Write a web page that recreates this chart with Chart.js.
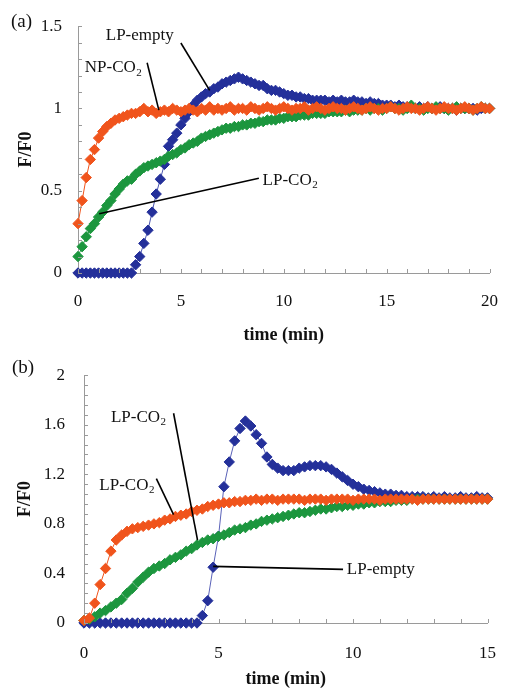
<!DOCTYPE html>
<html><head><meta charset="utf-8">
<script src="https://cdn.jsdelivr.net/npm/chart.js@4.4.0/dist/chart.umd.min.js"></script>
<style>
html,body{margin:0;padding:0;background:#fff;width:516px;height:688px;overflow:hidden;}
#wa{position:absolute;left:0;top:0;width:516px;height:346px;}
#wb{position:absolute;left:0;top:346px;width:516px;height:342px;}
.pl{position:absolute;font-family:"Liberation Serif","Times New Roman",serif;font-size:19px;line-height:1;color:#111;}
</style></head><body>
<div id="wa"><canvas id="ca" width="516" height="346"></canvas></div>
<div id="wb"><canvas id="cb" width="516" height="342"></canvas></div>
<div class="pl" style="left:11px;top:11px">(a)</div>
<div class="pl" style="left:12px;top:357px">(b)</div>
<script>
// ---------- Panel (a) data ----------
const timeA = [0,0.2,0.4,0.6,0.8,1,1.2,1.4,1.6,1.8,2,2.2,2.4,2.6,2.8,3,3.2,3.4,3.6,3.8,4,4.2,4.4,4.6,4.8,5,5.2,5.4,5.6,5.8,6,6.2,6.4,6.6,6.8,7,7.2,7.4,7.6,7.8,8,8.2,8.4,8.6,8.8,9,9.2,9.4,9.6,9.8,10,10.2,10.4,10.6,10.8,11,11.2,11.4,11.6,11.8,12,12.2,12.4,12.6,12.8,13,13.2,13.4,13.6,13.8,14,14.2,14.4,14.6,14.8,15,15.2,15.4,15.6,15.8,16,16.2,16.4,16.6,16.8,17,17.2,17.4,17.6,17.8,18,18.2,18.4,18.6,18.8,19,19.2,19.4,19.6,19.8,20];
const npCO2A = [0.30,0.44,0.58,0.69,0.75,0.82,0.86,0.89,0.91,0.93,0.94,0.95,0.96,0.97,0.97,0.98,
1.00,0.98,0.99,0.97,0.98,0.99,0.98,1.00,0.99,0.98,
0.99,1.00,0.99,0.98,1.00,0.99,1.01,0.99,1.00,0.99,
1.00,1.01,0.99,1.00,1.00,0.99,1.01,1.00,0.99,1.00,
1.01,1.00,0.99,1.00,1.01,1.00,0.99,1.00,1.00,1.01,
0.99,1.00,1.01,1.00,0.99,1.00,1.01,1.00,1.00,0.99,
1.00,1.01,1.00,0.99,1.00,1.01,1.00,0.99,1.00,1.00,
1.01,1.00,0.99,1.00,1.01,1.00,1.00,0.99,1.00,1.01,
1.00,0.99,1.00,1.01,1.00,1.00,0.99,1.00,1.01,1.00,
0.99,1.00,1.01,1.00,1.00];
const lpCO2A = [0.10,0.16,0.22,0.27,0.30,0.34,0.37,0.41,0.44,0.48,
0.51,0.54,0.56,0.57,0.60,0.62,0.64,0.65,0.66,0.67,
0.68,0.69,0.71,0.72,0.73,0.75,0.76,0.78,0.79,0.80,
0.82,0.83,0.84,0.85,0.86,0.87,0.88,0.88,0.89,0.89,
0.90,0.90,0.91,0.91,0.92,0.92,0.93,0.93,0.93,0.94,
0.94,0.95,0.95,0.95,0.96,0.96,0.96,0.97,0.97,0.97,
0.97,0.98,0.98,0.98,0.98,0.99,0.98,0.99,0.99,0.99,
1.00,0.99,1.00,1.00,0.99,1.00,1.01,1.00,1.00,0.99,
1.00,1.02,1.00,1.00,0.99,1.00,1.00,1.01,1.00,1.00,
0.99,1.00,1.01,1.00,1.00,1.00,0.99,1.00,1.01,1.00,
1.00];
const lpEmptyA = [0,0,0,0,0,0,0,0,0,0,0,0,0,0,
0.05,0.10,0.18,0.26,0.37,0.48,0.57,0.66,0.77,0.81,
0.85,0.90,0.94,0.98,1.02,1.05,1.07,1.09,1.10,1.12,
1.13,1.15,1.16,1.17,1.18,1.19,1.18,1.17,1.16,1.15,
1.14,1.14,1.12,1.11,1.11,1.10,1.09,1.08,1.08,1.07,
1.07,1.06,1.06,1.05,1.05,1.05,1.05,1.04,1.05,1.04,
1.05,1.04,1.04,1.05,1.04,1.04,1.03,1.04,1.03,1.03,
1.02,1.02,1.02,1.01,1.02,1.01,1.01,1.01,1.00,1.01,
1.00,1.01,1.00,1.00,1.01,1.00,1.00,1.00,0.99,1.00,
1.00,1.00,1.00,0.99,1.00,1.00,1.00];
const xLabelsA = [0,5,10,15,20];
const yLabelsA = [0,0.5,1,1.5];

// ---------- Panel (b) data ----------
const timeB = [0,0.2,0.4,0.6,0.8,1,1.2,1.4,1.6,1.8,2,2.2,2.4,2.6,2.8,3,3.2,3.4,3.6,3.8,4,4.2,4.4,4.6,4.8,5,5.2,5.4,5.6,5.8,6,6.2,6.4,6.6,6.8,7,7.2,7.4,7.6,7.8,8,8.2,8.4,8.6,8.8,9,9.2,9.4,9.6,9.8,10,10.2,10.4,10.6,10.8,11,11.2,11.4,11.6,11.8,12,12.2,12.4,12.6,12.8,13,13.2,13.4,13.6,13.8,14,14.2,14.4,14.6,14.8,15];
const orangeB = [0.02,0.04,0.16,0.31,0.44,0.58,0.67,0.71,0.74,0.76,
0.77,0.78,0.79,0.80,0.81,0.83,0.84,0.86,0.87,0.88,
0.90,0.91,0.92,0.94,0.95,0.96,0.97,0.97,0.98,0.98,
0.99,0.99,1.00,0.99,1.00,1.00,0.99,1.00,1.00,1.00,
1.00,0.99,1.00,1.00,1.00,0.99,1.00,1.00,1.00,1.00,
0.99,1.00,1.00,1.00,1.00,0.99,1.00,1.00,1.00,1.00,
1.00,1.00,0.99,1.00,1.00,1.00,1.00,1.00,1.00,1.00,
1.00,1.00,1.00,1.00,1.00,1.00];
const greenB = [0.02,0.03,0.05,0.08,0.10,0.13,0.16,0.19,0.24,0.28,
0.33,0.37,0.41,0.44,0.46,0.48,0.51,0.53,0.55,0.58,
0.60,0.63,0.65,0.67,0.68,0.70,0.71,0.73,0.75,0.76,
0.77,0.79,0.80,0.82,0.83,0.84,0.85,0.86,0.87,0.88,
0.89,0.89,0.90,0.91,0.92,0.92,0.93,0.94,0.94,0.95,
0.95,0.96,0.96,0.97,0.97,0.98,0.98,0.98,0.99,0.99,
0.99,1.00,1.00,1.00,1.00,1.00,1.00,1.00,1.00,1.00,
1.00,1.00,1.00,1.00,1.00,1.00];
const lpEmptyB = [0,0,0,0,0,0,0,0,0,0,0,0,0,0,0,0,0,0,0,0,0,0,
0.06,0.18,0.45,0.70,1.10,1.30,1.47,1.57,1.63,1.59,
1.52,1.45,1.34,1.28,1.25,1.23,1.23,1.23,1.25,1.26,
1.27,1.27,1.27,1.26,1.24,1.21,1.18,1.15,1.12,1.10,
1.08,1.07,1.06,1.05,1.04,1.04,1.03,1.03,1.02,1.02,
1.02,1.02,1.01,1.02,1.01,1.02,1.01,1.01,1.02,1.01,
1.01,1.02,1.01,1.01];
const xLabelsB = [0,5,10,15];
const yLabelsB = [0,0.4,0.8,1.2,1.6,2];

// ---------- annotations (data coordinates) ----------
const notesA = [
  {text:'LP-empty', sub:'', at:[1.35,1.445], from:[5.0,1.398], to:[6.4,1.11]},
  {text:'NP-CO', sub:'2', at:[0.33,1.248], from:[3.36,1.278], to:[3.93,0.99]},
  {text:'LP-CO', sub:'2', at:[8.97,0.564], from:[1.03,0.36], to:[8.79,0.576]}
];
const notesB = [
  {text:'LP-CO', sub:'2', at:[1.0,1.661], from:[3.33,1.693], to:[4.22,0.669]},
  {text:'LP-CO', sub:'2', at:[0.57,1.11], from:[2.69,1.165], to:[3.33,0.874]},
  {text:'LP-empty', sub:'', at:[9.77,0.433], from:[4.80,0.457], to:[9.63,0.433]}
];

const SERIF = '"Liberation Serif","Times New Roman",serif';
Chart.defaults.font.family = SERIF;
Chart.defaults.color = '#111';

const ORANGE = '#F0541C', GREEN = '#1C963E', BLUE = '#24309A';

function labelIf(list) {
  return function(v) {
    for (const l of list) if (Math.abs(v - l) < 1e-6) return String(Math.round(l*10)/10);
    return '';
  };
}

function ds(label, xs, ys, color, lineColor) {
  return {
    label, data: xs.map((t,i)=>({x:t, y:ys[i]})),
    borderColor: lineColor, backgroundColor: color,
    pointBackgroundColor: color, pointBorderColor: color,
    pointStyle: 'rectRot', pointRadius: 5.2, pointBorderWidth: 1,
    borderWidth: 1, tension: 0, clip: false
  };
}

function notesPlugin(items) {
  return {
    id: 'notes',
    afterDatasetsDraw(chart) {
      const {ctx, scales:{x, y}} = chart;
      ctx.save();
      ctx.strokeStyle = '#9a9a9a'; ctx.lineWidth = 1;
      x.ticks.forEach(t => {
        const px = Math.round(x.getPixelForValue(t.value)) + 0.5;
        ctx.beginPath(); ctx.moveTo(px, y.bottom); ctx.lineTo(px, y.bottom - 4); ctx.stroke();
      });
      y.ticks.forEach(t => {
        const py = Math.round(y.getPixelForValue(t.value)) + 0.5;
        ctx.beginPath(); ctx.moveTo(x.left, py); ctx.lineTo(x.left + 4, py); ctx.stroke();
      });
      items.forEach(n => {
        ctx.strokeStyle = '#000'; ctx.lineWidth = 1.6;
        ctx.beginPath();
        ctx.moveTo(x.getPixelForValue(n.from[0]), y.getPixelForValue(n.from[1]));
        ctx.lineTo(x.getPixelForValue(n.to[0]), y.getPixelForValue(n.to[1]));
        ctx.stroke();
        const tx = x.getPixelForValue(n.at[0]), ty = y.getPixelForValue(n.at[1]);
        ctx.fillStyle = '#111'; ctx.textAlign = 'left'; ctx.textBaseline = 'middle';
        ctx.font = '17px ' + SERIF;
        ctx.fillText(n.text, tx, ty);
        if (n.sub) {
          const w = ctx.measureText(n.text).width;
          ctx.font = '11px ' + SERIF;
          ctx.fillText(n.sub, tx + w + 0.5, ty + 5);
        }
      });
      ctx.restore();
    }
  };
}

function makeChart(id, cfg) {
  const tickFont = {family: SERIF, size: 17};
  const titleFont = {family: SERIF, size: 18, weight: 'bold', lineHeight: 1};
  return new Chart(document.getElementById(id), {
    type: 'line',
    data: {datasets: cfg.datasets},
    options: {
      responsive: false, animation: false, devicePixelRatio: 1, events: [],
      layout: {padding: {left: 0, top: cfg.top, right: cfg.right, bottom: 0}},
      plugins: {legend: {display: false}, tooltip: {enabled: false}},
      scales: {
        x: {
          type: 'linear', min: cfg.xmin, max: cfg.xmax,
          ticks: {stepSize: 1, autoSkip: false, maxRotation: 0, padding: cfg.xpad, font: tickFont, color: '#111', callback: labelIf(cfg.xLabels)},
          grid: {display: false, drawTicks: false},
          border: {display: true, color: '#9a9a9a', width: 1},
          title: {display: true, text: 'time (min)', font: titleFont, color: '#111', padding: {top: 0, bottom: cfg.xtpad}},
          afterFit(s) { s.height = cfg.xh; }
        },
        y: {
          type: 'linear', min: cfg.ymin, max: cfg.ymax,
          ticks: {stepSize: cfg.ystep, autoSkip: false, padding: cfg.ypad, font: tickFont, color: '#111', callback: labelIf(cfg.yLabels)},
          grid: {display: false, drawTicks: false},
          border: {display: true, color: '#9a9a9a', width: 1},
          title: {display: true, text: 'F/F0', font: titleFont, color: '#111', padding: {top: cfg.ytpad, bottom: 0}},
          afterFit(s) { s.width = cfg.yw; }
        }
      }
    },
    plugins: [notesPlugin(cfg.notes)]
  });
}

makeChart('ca', {
  datasets: [
    ds('NP-CO2', timeA, npCO2A, ORANGE, ORANGE),
    ds('LP-CO2', timeA, lpCO2A, GREEN, GREEN),
    ds('LP-empty', timeA, lpEmptyA, BLUE, '#4a55b0')
  ],
  top: 23, right: 10, xh: 73, yw: 78,
  xmin: 0, xmax: 20, ymin: 0, ymax: 1.5, ystep: 0.1,
  xLabels: xLabelsA, yLabels: yLabelsA,
  xpad: 18, ypad: 16, xtpad: 2, ytpad: 17, notes: notesA
});

makeChart('cb', {
  datasets: [
    ds('LP-CO2 (orange)', timeB, orangeB, ORANGE, ORANGE),
    ds('LP-CO2 (green)', timeB, greenB, GREEN, GREEN),
    ds('LP-empty', timeB, lpEmptyB, BLUE, '#5a62b8')
  ],
  top: 23, right: 13, xh: 65, yw: 84,
  xmin: 0, xmax: 15, ymin: 0, ymax: 2, ystep: 0.08,
  xLabels: xLabelsB, yLabels: yLabelsB,
  xpad: 20, ypad: 19, xtpad: 0, ytpad: 16, notes: notesB
});
</script>
</body></html>
